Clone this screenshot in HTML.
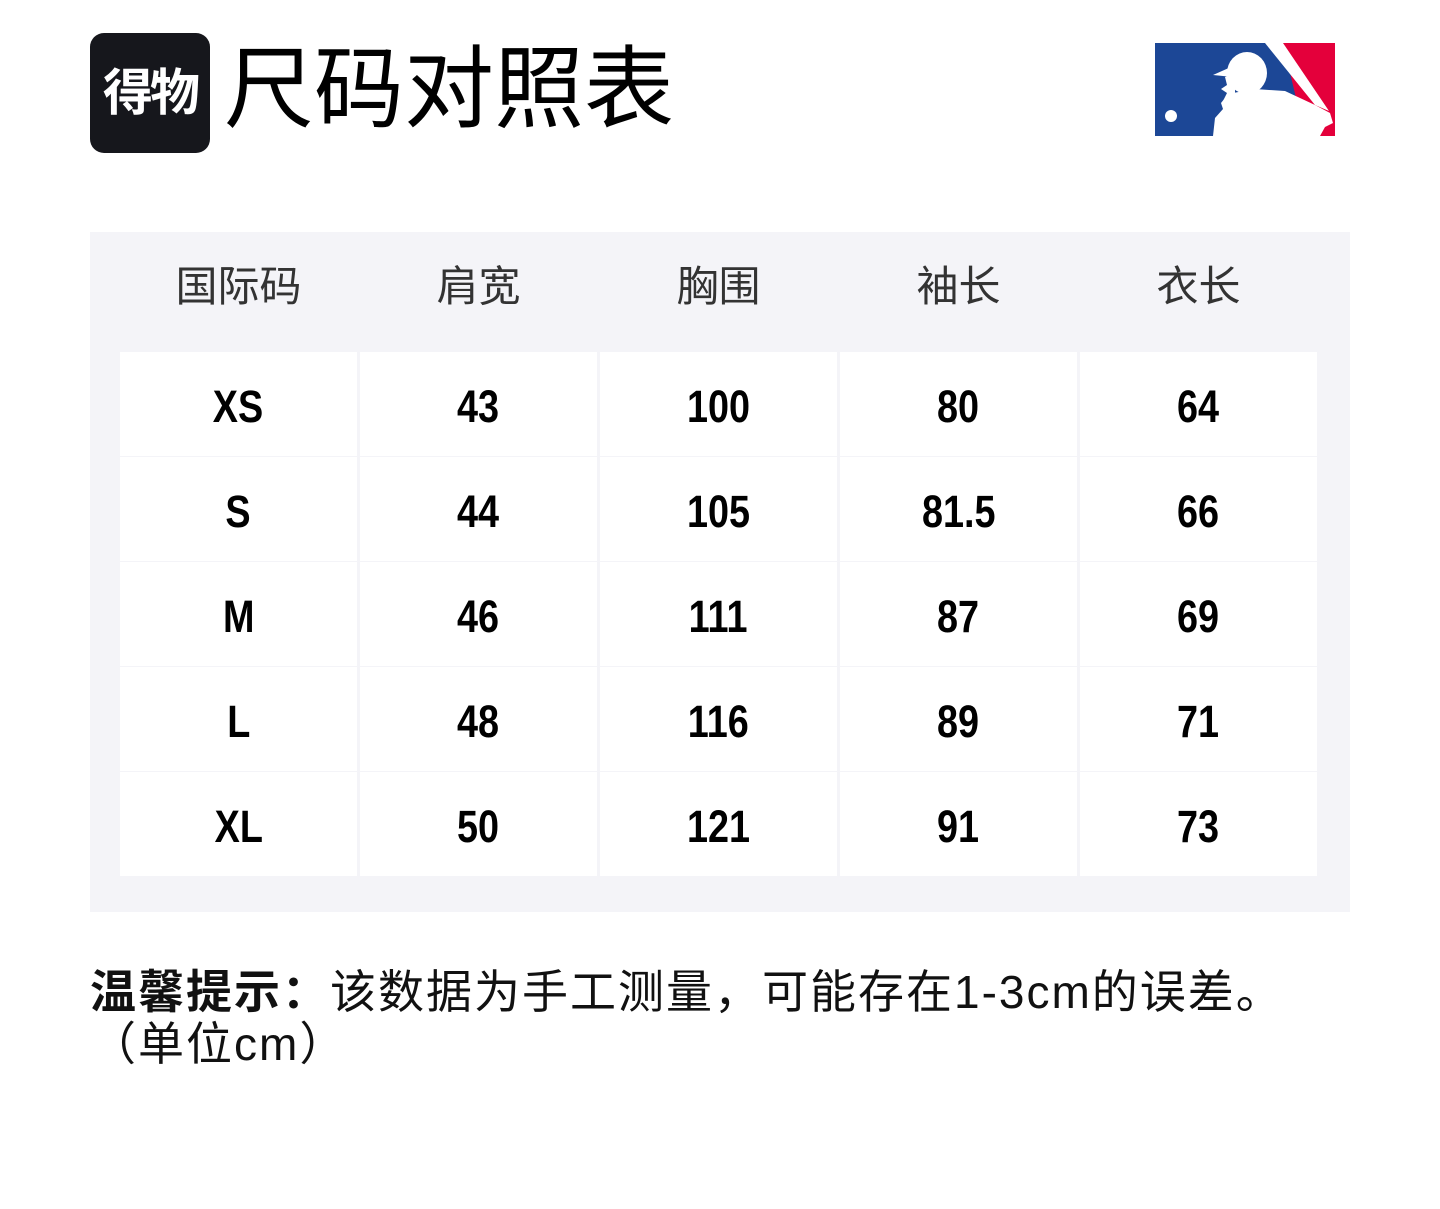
<!DOCTYPE html>
<html><head><meta charset="utf-8"><style>
body{margin:0;width:1440px;height:1209px;background:#fff;position:relative;overflow:hidden;font-family:"Liberation Sans","Noto Sans CJK SC",sans-serif;}
.abs{position:absolute;}
.logo{left:90px;top:33px;width:120px;height:120px;background:#16171c;border-radius:14px;color:#fff;font-size:50px;font-weight:bold;line-height:120px;text-align:center;letter-spacing:-3px;}
.title{left:224px;top:30px;font-size:90px;line-height:120px;color:#000;}
.panel{left:90px;top:232px;width:1260px;height:680px;background:#f4f4f8;}
.hd{top:258px;width:237px;text-align:center;font-size:42px;line-height:58px;color:#333;}
.cell{width:237px;height:104px;background:#fff;text-align:center;line-height:110px;font-weight:bold;font-size:45px;color:#000;}
.cell span{display:inline-block;transform:scaleX(0.84);}
.foot{left:90px;top:966px;font-size:46px;line-height:52px;color:#111;letter-spacing:2px;}
</style></head><body>
<div class="abs logo">得物</div>
<div class="abs title">尺码对照表</div>
<svg class="abs" style="left:1155px;top:43px" width="180" height="93" viewBox="0 0 180 93">
<rect x="0" y="0" width="180" height="93" fill="#1c4796"/>
<polygon points="128,0 180,0 180,93 150,93" fill="#e4003b"/>
<polygon points="110,0 128,0 174,68 160,62" fill="#fff"/>
<ellipse cx="92" cy="30" rx="20" ry="21" fill="#fff"/>
<polygon points="58,32 76,24 78,34" fill="#fff"/>
<polygon points="70,34 80,30 80,58 68,58 72,50 66,46 72,42" fill="#fff"/>
<polygon points="70,55 78,50 100,46 130,48 160,62 175,70 178,80 170,84 165,93 58,93 60,75 68,66 66,60" fill="#fff"/>
<circle cx="16" cy="73" r="6" fill="#fff"/>
</svg>
<div class="abs panel"></div>
<div class="abs hd" style="left:120px">国际码</div>
<div class="abs hd" style="left:360px">肩宽</div>
<div class="abs hd" style="left:600px">胸围</div>
<div class="abs hd" style="left:840px">袖长</div>
<div class="abs hd" style="left:1080px">衣长</div>

<div class="abs cell" style="left:120px;top:352px"><span>XS</span></div><div class="abs cell" style="left:360px;top:352px"><span>43</span></div><div class="abs cell" style="left:600px;top:352px"><span>100</span></div><div class="abs cell" style="left:840px;top:352px"><span>80</span></div><div class="abs cell" style="left:1080px;top:352px"><span>64</span></div>
<div class="abs cell" style="left:120px;top:457px"><span>S</span></div><div class="abs cell" style="left:360px;top:457px"><span>44</span></div><div class="abs cell" style="left:600px;top:457px"><span>105</span></div><div class="abs cell" style="left:840px;top:457px"><span>81.5</span></div><div class="abs cell" style="left:1080px;top:457px"><span>66</span></div>
<div class="abs cell" style="left:120px;top:562px"><span>M</span></div><div class="abs cell" style="left:360px;top:562px"><span>46</span></div><div class="abs cell" style="left:600px;top:562px"><span>111</span></div><div class="abs cell" style="left:840px;top:562px"><span>87</span></div><div class="abs cell" style="left:1080px;top:562px"><span>69</span></div>
<div class="abs cell" style="left:120px;top:667px"><span>L</span></div><div class="abs cell" style="left:360px;top:667px"><span>48</span></div><div class="abs cell" style="left:600px;top:667px"><span>116</span></div><div class="abs cell" style="left:840px;top:667px"><span>89</span></div><div class="abs cell" style="left:1080px;top:667px"><span>71</span></div>
<div class="abs cell" style="left:120px;top:772px"><span>XL</span></div><div class="abs cell" style="left:360px;top:772px"><span>50</span></div><div class="abs cell" style="left:600px;top:772px"><span>121</span></div><div class="abs cell" style="left:840px;top:772px"><span>91</span></div><div class="abs cell" style="left:1080px;top:772px"><span>73</span></div>

<div class="abs foot"><b>温馨提示：</b>该数据为手工测量，可能存在1-3cm的误差。<br>（单位cm）</div>
</body></html>
